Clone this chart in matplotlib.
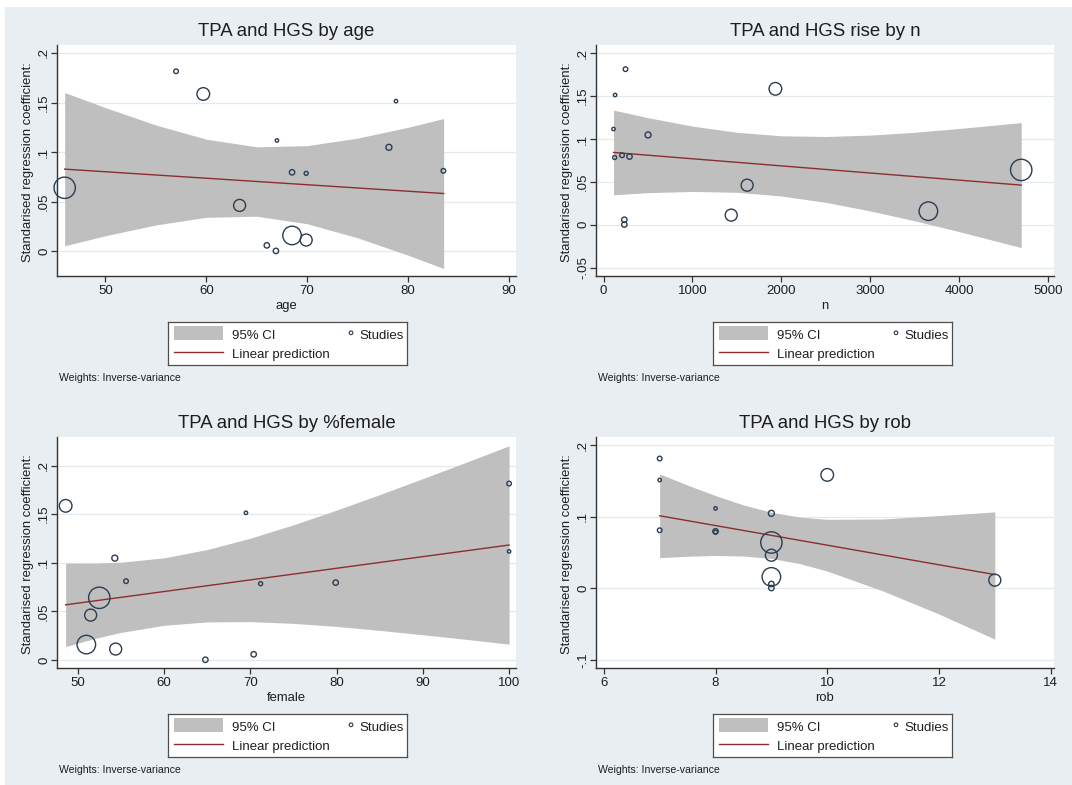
import matplotlib
matplotlib.use("Agg")
import matplotlib.pyplot as plt
from matplotlib.patches import Rectangle
from matplotlib.ticker import FuncFormatter

plt.rcParams['font.family'] = ['Liberation Sans', 'DejaVu Sans']

# 14 studies, same order in every panel
effect = [0.1815, 0.1586, 0.1514, 0.1117, 0.1048, 0.0811, 0.0796, 0.0785,
          0.0640, 0.0462, 0.0059, 0.0003, 0.0159, 0.0113]
weight = [5.3, 40, 2.9, 2.9, 9, 5.3, 7.3, 4, 114, 36, 7.3, 7.3, 86, 36]
age = [57.0, 59.7, 78.8, 67.0, 78.1, 83.5, 68.5, 69.9, 45.96, 63.3, 66.0, 66.9, 68.5, 69.9]
n = [246, 1933, 129, 111, 500, 207, 291, 124, 4700, 1615, 233, 233, 3655, 1436]
female = [100, 48.6, 69.5, 100, 54.3, 55.6, 79.9, 71.2, 52.5, 51.5, 70.4, 64.8, 51.0, 54.4]
rob = [7, 10, 7, 8, 9, 7, 8, 8, 9, 9, 9, 9, 9, 13]

# confidence bands and fitted lines
age_band_x = [45.96, 50, 55, 60, 65, 70, 75, 80, 83.53]
age_band_hi = [0.1601, 0.1448, 0.1273, 0.1130, 0.1053, 0.1065, 0.1141, 0.1250, 0.1338]
age_band_lo = [0.0055, 0.0156, 0.0265, 0.0342, 0.0353, 0.0277, 0.0135, -0.0040, -0.0174]
age_fit = [0.0828, 0.0582]

n_band_x = [111, 500, 1000, 1500, 2000, 2500, 3000, 3500, 4000, 4700]
n_band_hi = [0.1338, 0.1249, 0.1151, 0.1079, 0.1038, 0.1030, 0.1046, 0.1079, 0.1123, 0.1192]
n_band_lo = [0.0350, 0.0375, 0.0389, 0.0379, 0.0336, 0.0262, 0.0162, 0.0047, -0.0079, -0.0266]
n_fit = [0.0844, 0.0463]

fem_band_x = [48.6, 52, 55, 60, 65, 70, 75, 80, 85, 90, 95, 100]
fem_band_hi = [0.0997, 0.0996, 0.1006, 0.1051, 0.1136, 0.1253, 0.1391, 0.1542, 0.1701, 0.1866, 0.2033, 0.2203]
fem_band_lo = [0.0139, 0.0222, 0.0284, 0.0357, 0.0392, 0.0395, 0.0377, 0.0346, 0.0305, 0.0260, 0.0213, 0.0163]
fem_fit = [0.0568, 0.1183]

rob_band_x = [7, 7.5, 8, 8.5, 9, 9.5, 10, 11, 12, 13]
rob_band_hi = [0.1600, 0.1442, 0.1296, 0.1165, 0.1063, 0.0996, 0.0964, 0.0969, 0.1017, 0.1068]
rob_band_lo = [0.0428, 0.0448, 0.0458, 0.0451, 0.0417, 0.0346, 0.0240, -0.0039, -0.0361, -0.0712]
rob_fit = [0.1014, 0.0191]

titles = ["TPA and HGS by age", "TPA and HGS rise by n",
          "TPA and HGS by %female", "TPA and HGS by rob"]
xlabels = ["age", "n", "female", "rob"]
xticks = [[50, 60, 70, 80, 90], [0, 1000, 2000, 3000, 4000, 5000],
          [50, 60, 70, 80, 90, 100], [6, 8, 10, 12, 14]]
yticks = [[0, 0.05, 0.1, 0.15, 0.2], [-0.05, 0, 0.05, 0.1, 0.15, 0.2],
          [0, 0.05, 0.1, 0.15, 0.2], [-0.1, 0, 0.1, 0.2]]

W, H = 1072, 785
BG = '#e8eef1'
BAND = '#bfbfbf'
LINE = '#8a2e2e'
MK = '#2b3d52'
SP = '#333333'
TXT = '#1e1e1e'
GRID = '#e3eaed'

fig = plt.figure(figsize=(W / 100, H / 100), dpi=100, facecolor=BG)
fig.patches.append(Rectangle((0, 1 - 7 / H), 1, 7 / H, transform=fig.transFigure,
                             color='white', lw=0, zorder=0))
fig.patches.append(Rectangle((0, 0), 5 / W, 1, transform=fig.transFigure,
                             color='white', lw=0, zorder=0))


def stata_fmt(v, pos=None):
    s = f"{v:g}"
    if s.startswith("0."):
        s = s[1:]
    elif s.startswith("-0."):
        s = "-" + s[2:]
    return s


def fx(x):
    return x / W


def fy(y):
    return 1 - y / H


def draw_legend(x0, y0, w=239, h=43):
    lax = fig.add_axes([fx(x0), fy(y0 + h), w / W, h / H])
    lax.set_xlim(0, w)
    lax.set_ylim(h, 0)
    lax.set_xticks([])
    lax.set_yticks([])
    lax.set_facecolor('white')
    for sp in lax.spines.values():
        sp.set_color('#4d4d4d')
        sp.set_linewidth(0.9)
    lax.add_patch(Rectangle((6, 4.7), 48.7, 13.3, color=BAND, lw=0))
    lax.plot([6, 54.7], [30.7, 30.7], color=LINE, lw=1.0)
    lax.scatter([183], [11.3], s=7, facecolors='none', edgecolors=MK, linewidths=0.8)
    lax.text(64, 17.3, "95% CI", fontsize=9.5, color=TXT, va='baseline')
    lax.text(64, 36.3, "Linear prediction", fontsize=9.5, color=TXT, va='baseline')
    lax.text(191, 17.3, "Studies", fontsize=9.5, color=TXT, va='baseline')


panels = [
    dict(x=age, bx=age_band_x, lo=age_band_lo, hi=age_band_hi, fit=age_fit,
         box=(57, 45, 516, 276), xlim=(45.2, 90.7), ylim=(-0.025, 0.208), leg=168),
    dict(x=n, bx=n_band_x, lo=n_band_lo, hi=n_band_hi, fit=n_fit,
         box=(596, 45, 1054, 276), xlim=(-86, 5069), ylim=(-0.0597, 0.2097), leg=713),
    dict(x=female, bx=fem_band_x, lo=fem_band_lo, hi=fem_band_hi, fit=fem_fit,
         box=(57, 437, 516, 668), xlim=(47.6, 100.8), ylim=(-0.0082, 0.2294), leg=168),
    dict(x=rob, bx=rob_band_x, lo=rob_band_lo, hi=rob_band_hi, fit=rob_fit,
         box=(596, 437, 1054, 668), xlim=(5.86, 14.06), ylim=(-0.1116, 0.2116), leg=713),
]

for i, p in enumerate(panels):
    l, t, r, b = p['box']
    ax = fig.add_axes([fx(l), fy(b), (r - l) / W, (b - t) / H])
    ax.set_facecolor('white')
    ax.set_xlim(*p['xlim'])
    ax.set_ylim(*p['ylim'])
    ax.set_axisbelow(True)
    ax.yaxis.grid(True, color=GRID, lw=0.9, zorder=0)

    ax.fill_between(p['bx'], p['lo'], p['hi'], color=BAND, lw=0, zorder=2)
    ax.plot([p['bx'][0], p['bx'][-1]], p['fit'], color=LINE, lw=1.0, zorder=3)
    ax.scatter(p['x'], effect, s=[2.07 * w for w in weight], facecolors='none',
               edgecolors=MK, linewidths=1.0, zorder=4, clip_on=False)

    for side in ['top', 'right']:
        ax.spines[side].set_visible(False)
    for side in ['left', 'bottom']:
        ax.spines[side].set_color(SP)
        ax.spines[side].set_linewidth(1.0)

    ax.set_xticks(xticks[i])
    ax.set_yticks(yticks[i])
    ax.yaxis.set_major_formatter(FuncFormatter(stata_fmt))
    ax.tick_params(axis='both', length=4, width=0.9, color=SP, labelsize=9.5,
                   labelcolor=TXT)
    ax.tick_params(axis='x', pad=2.5)
    ax.tick_params(axis='y', pad=1.0)
    for lab in ax.get_yticklabels():
        lab.set_rotation(90)
        lab.set_va('center')
        lab.set_ha('right')

    xc = (l + r) / 2
    fig.text(fx(xc), fy(t - 8.5), titles[i], fontsize=13.4, color=TXT,
             ha='center', va='baseline')
    fig.text(fx(l - 29), fy((t + b) / 2 + 2),
             "Standarised regression coefficient:", fontsize=9.4, color=TXT,
             rotation=90, ha='center', va='center')
    fig.text(fx(xc), fy(b + 32.7), xlabels[i], fontsize=9.4, color=TXT,
             ha='center', va='baseline')
    draw_legend(p['leg'], b + 45.5)
    fig.text(fx(l + 2), fy(b + 104.7), "Weights: Inverse-variance", fontsize=7.6,
             color=TXT, ha='left', va='baseline')

fig.savefig("out.png", dpi=100, facecolor=BG)
